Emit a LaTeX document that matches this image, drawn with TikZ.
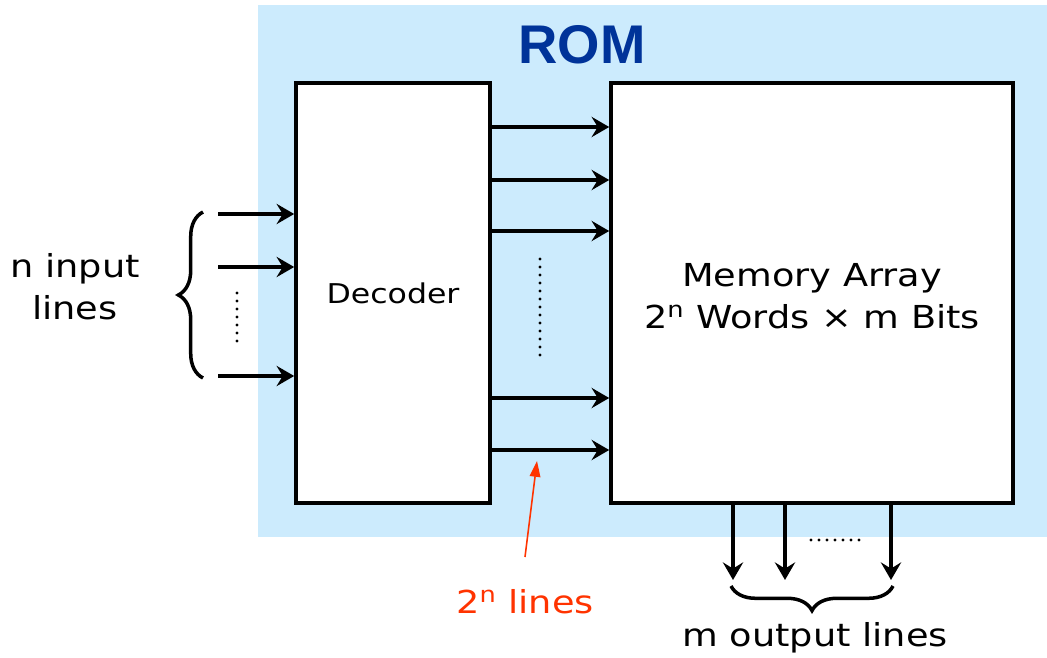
\documentclass[tikz,border=0pt]{standalone}
\usepackage{fontspec}
\setmainfont[FakeStretch=1.16]{DejaVu Sans}
\newfontfamily\titlefont{Liberation Sans}
\usepackage{xcolor}
\usepackage{tikz}
\usetikzlibrary{arrows.meta, decorations.pathreplacing}
\definecolor{romBlue}{HTML}{CCEBFD}
\definecolor{romTitle}{HTML}{003399}
\definecolor{noteRed}{HTML}{FF3300}

\begin{document}
\begin{tikzpicture}[x=0.02cm, y=-0.02cm,
    block/.style={draw, line width=2.1pt, fill=white, inner sep=0pt},
    sig/.style={line width=2pt, -{Stealth[length=10pt, width=11.5pt, inset=3.5pt]}},
    bracket/.style={line width=2pt, decorate, decoration={brace, amplitude=14pt}}]
    \useasboundingbox (0,0) rectangle (1047,658);
    \fill[romBlue] (258,5) rectangle (1047,537);
    \node[romTitle, font=\titlefont\bfseries\fontsize{31}{36}\selectfont] (rom) at (582,45) {ROM};
    % the two blocks
    \node[block, minimum width=3.88cm, minimum height=8.4cm,
        font=\fontsize{15.5}{19}\selectfont] (dec) at (393,293) {Decoder};
    \node[block, minimum width=8.04cm, minimum height=8.4cm] (mem) at (812,293) {};
    \node[align=center, font=\fontsize{18}{24}\selectfont] (memlbl) at (812,296)
        {Memory Array\\2\textsuperscript{n} Words × m Bits};
    % inputs
    \foreach \y/\n in {214/a, 267/b, 376/c} {
        \coordinate (in\n) at (218,\y);
        \draw[sig] (in\n) -- (in\n -| dec.west);
    }
    \foreach \y in {293,301,...,342}
        \fill (237,\y) circle (1.7);
    \draw[bracket] (203,378) -- (203,212);
    \node[align=center, font=\fontsize{18}{24}\selectfont] (inlbl) at (75,287) {n input\\lines};
    % decoder outputs
    \foreach \y/\n in {127/a, 180/b, 231/c, 398/d, 450/e} {
        \coordinate (w\n) at (490,\y);
        \draw[sig] (w\n) -- (w\n -| mem.west);
    }
    \foreach \y in {259,267,...,358}
        \fill (540,\y) circle (1.7);
    % outputs
    \foreach \x/\n in {733/a, 785/b, 891/c} {
        \coordinate (out\n) at (\x,580);
        \draw[sig] (out\n |- mem.south) -- (out\n);
    }
    \foreach \x in {811,819,...,862}
        \fill (\x,540) circle (1.7);
    \draw[bracket] (893,586) -- (731,586);
    \node[font=\fontsize{18}{24}\selectfont] (outlbl) at (815,638) {m output lines};
    % note
    \node[noteRed, font=\fontsize{18}{24}\selectfont] (note) at (525,602) {2\textsuperscript{n} lines};
    \coordinate (tip) at (537,461);
    \draw[noteRed, line width=0.9pt, -{Triangle[length=9pt, width=6pt]}] (525,557) -- (tip);
\end{tikzpicture}
\end{document}
